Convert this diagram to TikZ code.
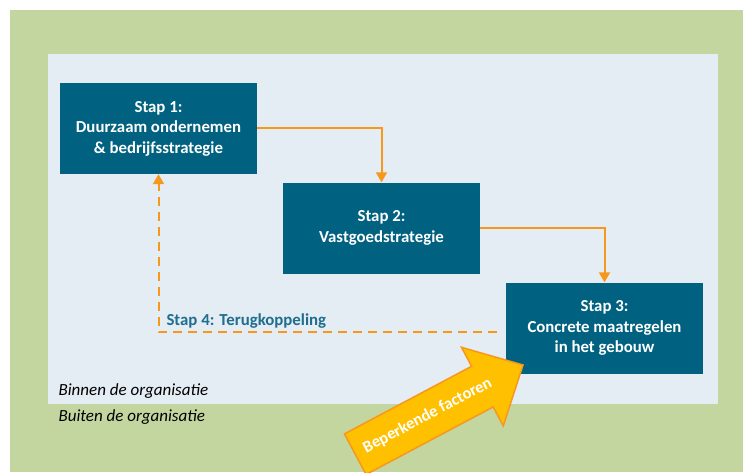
\documentclass[tikz,border=0pt]{standalone}
\usepackage{fontspec}
\setmainfont{Carlito}
\usetikzlibrary{arrows.meta}
\definecolor{veld}{HTML}{C4D6A0}
\definecolor{binnen}{HTML}{E4ECF4}
\definecolor{stap}{HTML}{006280}
\definecolor{oranje}{HTML}{F7981D}
\definecolor{geel}{HTML}{FFC000}
\definecolor{terugtekst}{HTML}{1F6E8E}
\begin{document}
\begin{tikzpicture}[x=1pt,y=1pt,
  stapbox/.style={fill=stap,text=white,minimum width=197pt,minimum height=91pt,
    align=center,font=\bfseries\fontsize{16.8}{20.5}\selectfont},
  flow/.style={oranje,line width=2pt,-{Triangle[width=11pt,length=10pt]}},
  terug/.style={flow,dash pattern=on 9pt off 6pt},
  omgeving/.style={anchor=west,font=\itshape\fontsize{17}{19}\selectfont}]
\useasboundingbox (0,0) rectangle (743,472);
\clip (0,0) rectangle (743,472);
% achtergrond: buiten / binnen de organisatie
\fill[veld] (10,0) rectangle (743,462);
\fill[binnen] (48,68) rectangle (718,418);
\node[stapbox] (s1) at (158.5,343.5) {Stap 1:\\Duurzaam ondernemen\\\& bedrijfsstrategie};
\node[stapbox] (s2) at (381.5,244) {Stap 2:\\Vastgoedstrategie};
\node[stapbox] (s3) at (604.5,144) {Stap 3:\\Concrete maatregelen\\in het gebouw};
\draw [flow] (s1.east) -| (s2.north);
\draw [flow] (s2.east) -| (s3.north);
\coordinate (fb) at (497,140);
\draw [terug] (fb) -| (s1.south);
\node[anchor=west,text=terugtekst,font=\bfseries\fontsize{16.8}{19}\selectfont] (s4) at (163,151) {Stap 4: Terugkoppeling};
\node[omgeving] (bi) at (55,81) {Binnen de organisatie};
\node[omgeving] (bu) at (55,55) {Buiten de organisatie};
% beperkende factoren
\begin{scope}[shift={(523,107)},rotate=28]
\filldraw[fill=geel,draw=oranje,line width=1.5pt] (0,0) -- (-46,44.5) -- (-46,23) -- (-190,23)
  -- (-190,-23) -- (-46,-23) -- (-46,-44.5) -- cycle;
\node[rotate=28,text=white,font=\bfseries\fontsize{16.5}{19}\selectfont] (bf) at (-108,0) {Beperkende factoren};
\end{scope}
\end{tikzpicture}
\end{document}
